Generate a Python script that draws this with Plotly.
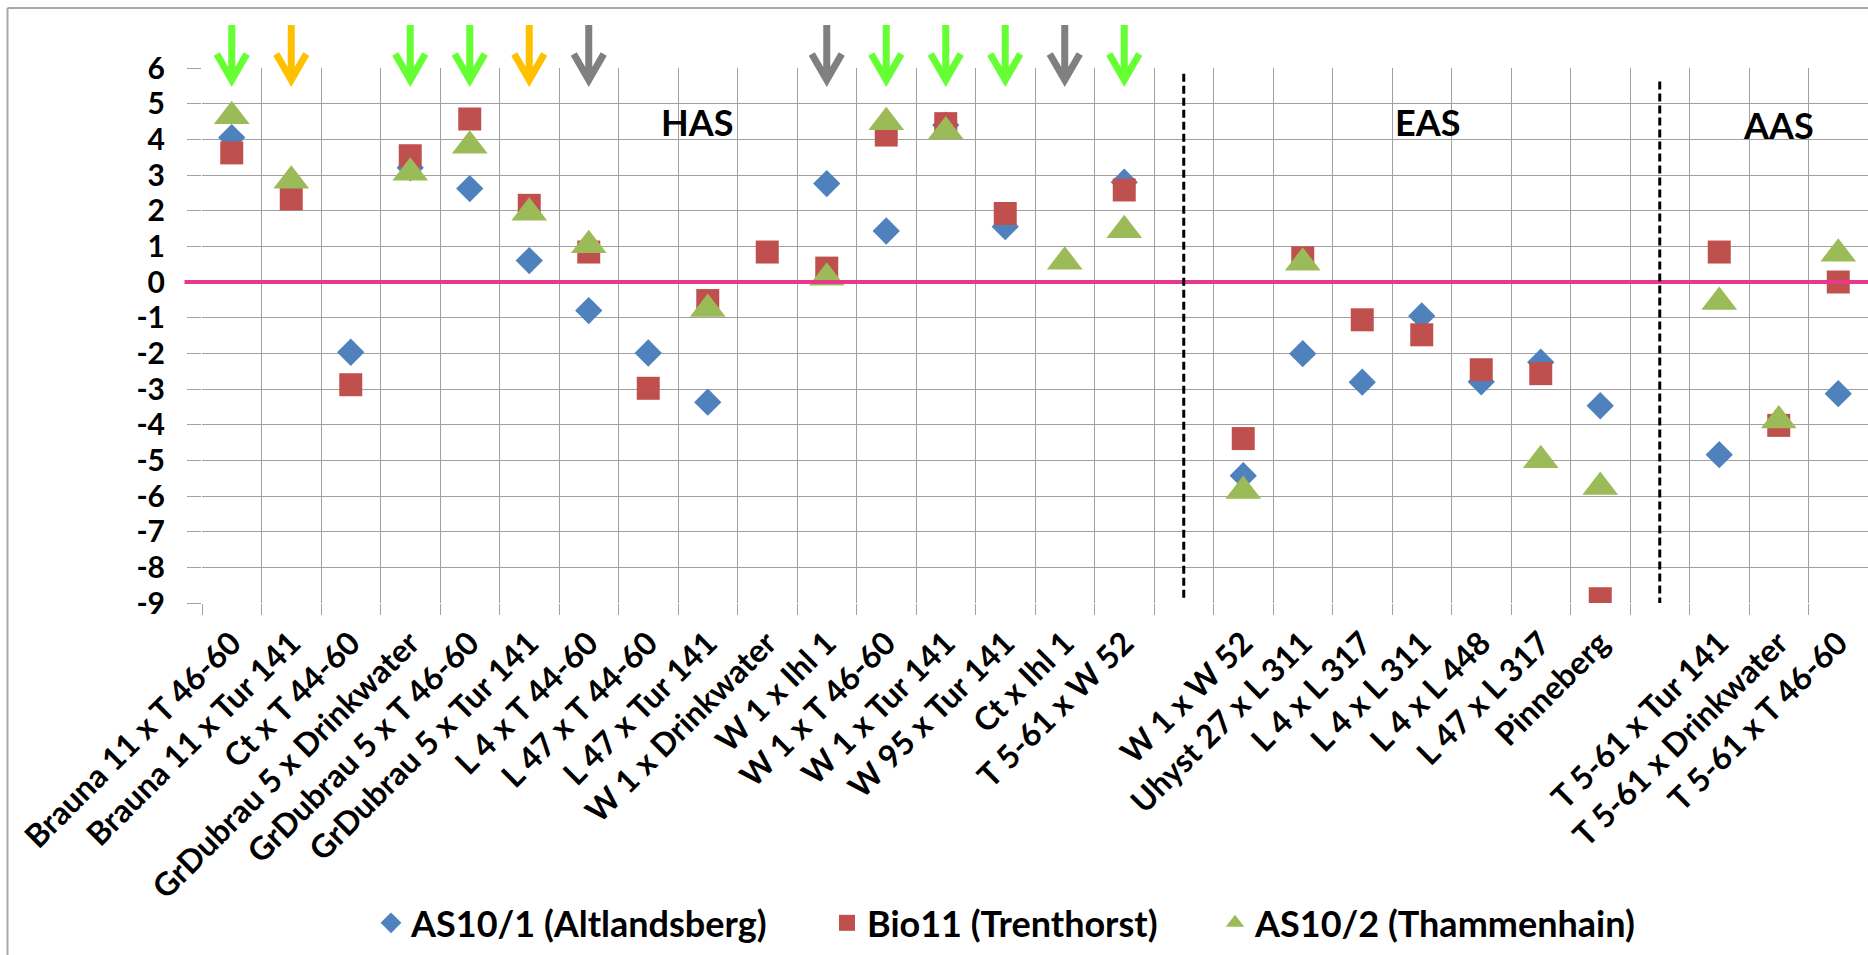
import plotly.graph_objects as go

# ---------------- data ----------------
categories = [
    "Brauna 11 x T 46-60", "Brauna 11 x Tur 141", "Ct x T 44-60",
    "GrDubrau 5 x Drinkwater", "GrDubrau 5 x T 46-60", "GrDubrau 5 x Tur 141",
    "L 4 x T 44-60", "L 47 x T 44-60", "L 47 x Tur 141", "W 1 x Drinkwater",
    "W 1 x Ihl 1", "W 1 x T 46-60", "W 1 x Tur 141", "W 95 x Tur 141",
    "Ct x Ihl 1", "T 5-61 x W 52", "",
    "W 1 x W 52", "Uhyst 27 x L 311", "L 4 x L 317", "L 4 x L 311",
    "L 4 x L 448", "L 47 x L 317", "Pinneberg", "",
    "T 5-61 x Tur 141", "T 5-61 x Drinkwater", "T 5-61 x T 46-60",
]

as10_1 = [4.05, None, -1.97, 3.20, 2.62, 0.60, -0.80, -1.99, -3.37, None,
          2.76, 1.43, 4.40, 1.55, None, 2.80, None,
          -5.43, -2.01, -2.81, -0.95, -2.80, -2.25, -3.47, None,
          -4.84, None, -3.13]
bio11 = [3.62, 2.33, -2.88, 3.54, 4.57, 2.15, 0.84, -2.98, -0.52, 0.84,
         0.39, 4.12, 4.44, 1.92, None, 2.58, None,
         -4.39, 0.68, -1.06, -1.48, -2.46, -2.57, -8.88, None,
         0.84, -4.02, 0.00]
as10_2 = [4.65, 2.84, None, 3.06, 3.82, 1.94, 1.03, None, -0.76, None,
          0.12, 4.48, 4.22, None, 0.57, 1.45, None,
          -5.86, 0.54, None, None, None, -5.00, -5.75, None,
          -0.56, -3.88, 0.79]

series_names = ["AS10/1 (Altlandsberg)", "Bio11 (Trenthorst)", "AS10/2 (Thammenhain)"]

y_tickvals = [6, 5, 4, 3, 2, 1, 0, -1, -2, -3, -4, -5, -6, -7, -8, -9]
y_ticktext = ["6", "5", "4", "3", "2", "1", "0", "-1", "-2", "-3", "-4",
              "-5", "-6", "-7", "-8", "-9"]

# arrows above selected crosses
arrow_cats = [0, 1, 3, 4, 5, 6, 10, 11, 12, 13, 14, 15]
arrow_kinds = ["g", "o", "g", "g", "o", "x", "x", "g", "g", "g", "x", "g"]

# group labels
group_labels = ["HAS", "EAS", "AAS"]
group_x = [7.82, 20.1, 26.0]
group_y = [4.5, 4.49, 4.39]

# group separators (category position, top, bottom)
sep_x = [16, 24]
sep_top = [5.9, 5.65]
sep_bottom = [-8.85, -9.07]

# ---------------- styling ----------------
FONT = "Lato"
BLUE, RED, GREEN = "#4F81BD", "#C0504D", "#9BBB59"
ARROW_COLORS = {"g": "#66FF33", "o": "#FFC000", "x": "#808080"}
GRID = "#A0A0A0"
PLOT_L, PLOT_W = 202, 1666
xpos = list(range(len(categories)))

def px_to_paper(px):
    return (px - PLOT_L) / PLOT_W

legend_font = dict(family=FONT, size=36, color="black", weight="bold")
legend_left_px = [371, 827, 1215]
legend_ids = ["legend", "legend2", "legend3"]

fig = go.Figure()
fig.add_trace(go.Scatter(x=xpos, y=as10_1, mode="markers", name=series_names[0],
                         legend=legend_ids[0],
                         marker=dict(symbol="diamond", size=21, color=BLUE)))
fig.add_trace(go.Scatter(x=xpos, y=bio11, mode="markers", name=series_names[1],
                         legend=legend_ids[1],
                         marker=dict(symbol="square", size=23, color=RED)))
fig.add_trace(go.Scatter(x=xpos, y=as10_2, mode="markers", name=series_names[2],
                         legend=legend_ids[2],
                         marker=dict(symbol="triangle-up", size=31, color=GREEN)))

shapes = []
# zero line (pink)
shapes.append(dict(type="line", xref="paper", yref="y", x0=-0.0105, x1=1, y0=0, y1=0,
                   line=dict(color="#E8388D", width=4), layer="above"))
# separators
for sx, st, sb in zip(sep_x, sep_top, sep_bottom):
    shapes.append(dict(type="line", xref="x", yref="y", x0=sx, x1=sx, y0=sb, y1=st,
                       line=dict(color="black", width=3, dash="8px,4px"), layer="above"))
# arrows
for c, k in zip(arrow_cats, arrow_kinds):
    shapes.append(dict(type="path", xref="x", yref="paper",
                       xsizemode="pixel", ysizemode="pixel", xanchor=c, yanchor=1,
                       path="M0,43 L0,-12 M-15,14 L0,-12 L15,14",
                       line=dict(color=ARROW_COLORS[k], width=7)))
# chart border (left and top)
shapes.append(dict(type="line", xref="paper", yref="paper", x0=px_to_paper(7.5), x1=px_to_paper(7.5),
                   y0=-0.7, y1=1.1121, line=dict(color="#A8A8A8", width=2)))
shapes.append(dict(type="line", xref="paper", yref="paper", x0=px_to_paper(7.5), x1=1.01,
                   y0=1.1121, y1=1.1121, line=dict(color="#A8A8A8", width=2)))

annotations = []
for t, gx, gy in zip(group_labels, group_x, group_y):
    annotations.append(dict(x=gx, y=gy, xref="x", yref="y", text=t, showarrow=False,
                            font=dict(family=FONT, size=36, color="black", weight="bold")))

legend_layouts = {}
for lid, lpx in zip(legend_ids, legend_left_px):
    legend_layouts[lid] = dict(orientation="h", x=px_to_paper(lpx), xanchor="left",
                               y=-0.598, yanchor="middle", font=legend_font,
                               bgcolor="rgba(0,0,0,0)", borderwidth=0)

fig.update_layout(
    width=1868, height=955,
    margin=dict(l=PLOT_L, r=0, t=68, b=352),
    plot_bgcolor="white", paper_bgcolor="white",
    font=dict(family=FONT, color="black", weight="bold"),
    showlegend=True,
    shapes=shapes,
    annotations=annotations,
    xaxis=dict(
        range=[-0.5, len(categories) - 0.5],
        tickmode="array", tickvals=xpos, ticktext=categories,
        tickangle=-45, showgrid=False, ticks="", zeroline=False, showline=False,
        tickfont=dict(family=FONT, size=32, color="black", weight="bold"),
        ticklabelstandoff=14,
        minor=dict(tick0=-0.5, dtick=1, showgrid=True, gridcolor=GRID, gridwidth=1.3,
                   ticks="outside", ticklen=11, tickcolor=GRID, tickwidth=1.3),
        fixedrange=True,
    ),
    yaxis=dict(
        range=[-9, 6], tickmode="array", tickvals=y_tickvals, ticktext=y_ticktext,
        showgrid=True, gridcolor=GRID, gridwidth=1.3, zeroline=False, showline=False,
        ticks="outside", ticklen=14, tickcolor=GRID, tickwidth=1.3,
        tickfont=dict(family=FONT, size=30, color="black", weight="bold"),
        ticklabelstandoff=16,
        fixedrange=True,
    ),
    **legend_layouts,
)

fig.write_html("out.html")
